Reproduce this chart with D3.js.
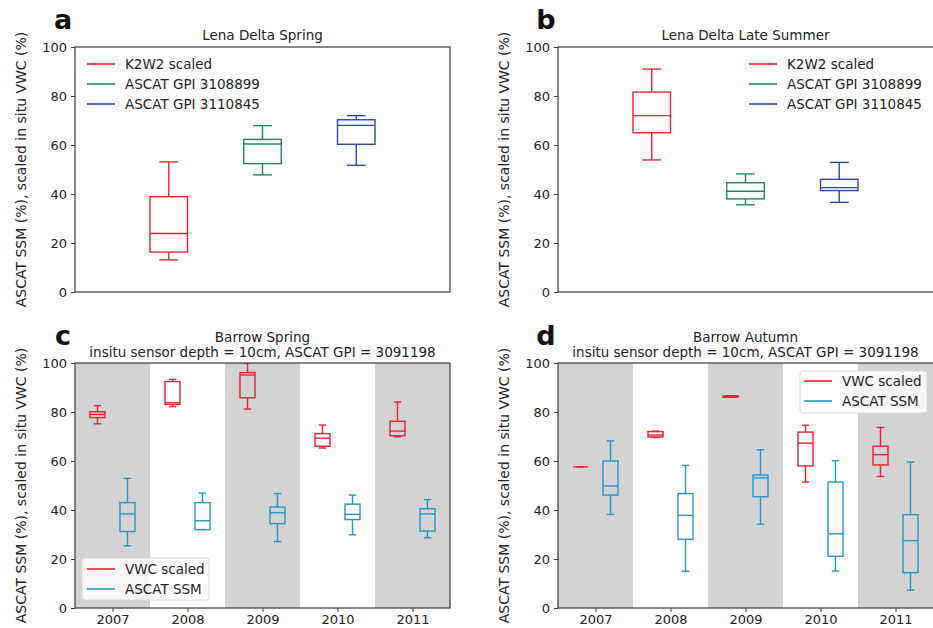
<!DOCTYPE html>
<html>
<head>
<meta charset="utf-8">
<script src="https://cdn.jsdelivr.net/npm/d3@7"></script>
<style>
  html, body { margin: 0; padding: 0; background: #fff; }
  svg { display: block; font-family: "DejaVu Sans", Verdana, sans-serif; }
</style>
</head>
<body>
<svg id="chart" width="933" height="628"></svg>
<script>
// ---------------- DATA ----------------
// Box stats: [lower whisker, Q1, median, Q3, upper whisker]
const lenaGroups = ["K2W2 scaled", "ASCAT GPI 3108899", "ASCAT GPI 3110845"];
const lenaSpring = [
  [13.1, 16.3, 23.9, 38.9, 53.1],
  [47.8, 52.4, 60.4, 62.3, 67.9],
  [51.7, 60.3, 68.0, 70.3, 72.0]
];
const lenaLateSummer = [
  [53.9, 65.0, 72.0, 81.6, 91.0],
  [35.6, 38.0, 41.1, 44.6, 48.2],
  [36.6, 41.4, 42.6, 46.0, 52.9]
];
const years = ["2007", "2008", "2009", "2010", "2011"];
const barrowSeries = ["VWC scaled", "ASCAT SSM"];
const springVWC = [
  [75.2, 77.7, 79.0, 80.1, 82.6],
  [82.2, 83.1, 83.8, 92.4, 93.3],
  [81.2, 85.8, 95.1, 96.1, 100.0],
  [65.3, 66.0, 69.3, 71.2, 74.7],
  [69.9, 70.3, 72.2, 76.2, 84.1]
];
const springSSM = [
  [25.4, 31.2, 38.4, 43.0, 52.9],
  [32.0, 32.0, 35.6, 43.0, 46.9],
  [27.1, 34.4, 38.9, 41.2, 46.7],
  [29.9, 36.1, 38.2, 42.4, 46.1],
  [28.7, 31.4, 38.4, 40.5, 44.2]
];
const autumnVWC = [
  [57.6, 57.6, 57.6, 57.6, 57.6],
  [69.6, 69.8, 70.6, 72.0, 72.2],
  [86.0, 86.0, 86.3, 86.6, 86.6],
  [51.4, 58.0, 67.3, 71.8, 74.6],
  [53.7, 58.4, 62.6, 66.0, 73.7]
];
const autumnSSM = [
  [38.2, 46.1, 49.8, 60.0, 68.2],
  [15.0, 28.0, 37.8, 46.7, 58.2],
  [34.2, 45.4, 53.1, 54.3, 64.6],
  [15.1, 21.1, 30.3, 51.4, 60.1],
  [7.3, 14.4, 27.5, 38.1, 59.6]
];
const yTickValues = [0, 20, 40, 60, 80, 100];

// ---------------- STYLE ----------------
const lenaColors = ["#e2262c", "#23875a", "#2c4c9f"];
const barrowColors = ["#e2262c", "#2596c4"];
const bandColor = "#d3d3d3";
const spineColor = "#3a3a3a";
const yLabel = "ASCAT SSM (%), scaled in situ VWC (%)";

const svg = d3.select("#chart");

const panels = [
  { id: "a", left: 75, right: 450, top: 47, bottom: 292 },
  { id: "b", left: 558, right: 934, top: 47, bottom: 292 },
  { id: "c", left: 75, right: 450, top: 363, bottom: 608 },
  { id: "d", left: 558, right: 934, top: 363, bottom: 608 }
];

function boxplot(g, x, y, xc, halfW, s, color) {
  const [lo, q1, med, q3, hi] = s;
  const gg = g.append("g").attr("stroke", color).attr("fill", "none").attr("stroke-width", 1.4);
  gg.append("rect")
    .attr("x", xc - halfW).attr("width", 2 * halfW)
    .attr("y", y(q3)).attr("height", Math.max(0, y(q1) - y(q3)));
  gg.append("line").attr("x1", xc - halfW).attr("x2", xc + halfW)
    .attr("y1", y(med)).attr("y2", y(med));
  gg.append("line").attr("x1", xc).attr("x2", xc).attr("y1", y(q1)).attr("y2", y(lo));
  gg.append("line").attr("x1", xc).attr("x2", xc).attr("y1", y(q3)).attr("y2", y(hi));
  gg.append("line").attr("x1", xc - halfW / 2).attr("x2", xc + halfW / 2).attr("y1", y(lo)).attr("y2", y(lo));
  gg.append("line").attr("x1", xc - halfW / 2).attr("x2", xc + halfW / 2).attr("y1", y(hi)).attr("y2", y(hi));
}

function frame(p, y) {
  const g = svg.append("g");
  const ax = g.append("g").attr("transform", `translate(${p.left},0)`)
    .call(d3.axisLeft(y).tickValues(yTickValues).tickSize(4).tickPadding(4));
  ax.select(".domain").remove();
  ax.selectAll(".tick line").attr("stroke", spineColor).attr("stroke-width", 1);
  ax.selectAll(".tick text").attr("font-size", 13).attr("fill", "#222")
    .attr("font-family", "DejaVu Sans, sans-serif");
  g.append("text")
    .attr("transform", `translate(${p.left - 54},${(p.top + p.bottom) / 2}) rotate(-90)`)
    .attr("text-anchor", "middle").attr("dy", "0.35em")
    .attr("font-size", 14).attr("fill", "#222").text(yLabel);
  g.append("text").attr("x", p.left - 12).attr("y", p.top - 18)
    .attr("text-anchor", "middle").attr("font-size", 27).attr("font-weight", "bold")
    .attr("fill", "#111").text(p.id);
  return g;
}

function spines(p) {
  svg.append("rect").attr("x", p.left).attr("y", p.top)
    .attr("width", p.right - p.left).attr("height", p.bottom - p.top)
    .attr("fill", "none").attr("stroke", spineColor).attr("stroke-width", 1.2);
}

function legendFrame(x0, y0, w, h) {
  const g = svg.append("g");
  g.append("rect").attr("x", x0).attr("y", y0).attr("width", w).attr("height", h)
    .attr("rx", 3).attr("fill", "#fff").attr("fill-opacity", 0.8)
    .attr("stroke", "#d8d8d8").attr("stroke-width", 1);
  return g;
}

function drawLegendItems(g, lx, ly, items, colors) {
  items.forEach((t, i) => {
    const yy = ly + i * 20;
    g.append("line").attr("x1", lx).attr("x2", lx + 28).attr("y1", yy).attr("y2", yy)
      .attr("stroke", colors[i]).attr("stroke-width", 1.6);
    g.append("text").attr("x", lx + 38).attr("y", yy).attr("dy", "0.35em")
      .attr("font-size", 13.5).attr("fill", "#222").text(t);
  });
}

// ---------------- TOP PANELS ----------------
[[panels[0], lenaSpring, "Lena Delta Spring", 87],
 [panels[1], lenaLateSummer, "Lena Delta Late Summer", 749]].forEach(([p, data, title, lx]) => {
  const y = d3.scaleLinear().domain([0, 100]).range([p.bottom, p.top]);
  const x = d3.scaleLinear().domain([0, 4]).range([p.left, p.left + 375]);
  frame(p, y);
  const g = svg.append("g");
  data.forEach((s, i) => {
    const halfW = (x(0.4) - x(0)) / 2;
    boxplot(g, x, y, x(i + 1), halfW, s, lenaColors[i]);
  });
  spines(p);
  svg.append("text").attr("x", (p.left + p.left + 375) / 2).attr("y", 40)
    .attr("text-anchor", "middle").attr("font-size", 13.5).attr("fill", "#222").text(title);
  const lg = svg.append("g");
  drawLegendItems(lg, lx, 64, lenaGroups, lenaColors);
});

// ---------------- BOTTOM PANELS ----------------
svg.append("defs").selectAll("clipPath").data([panels[2], panels[3]]).join("clipPath")
  .attr("id", d => "clip" + d.id)
  .append("rect").attr("x", d => d.left).attr("y", d => d.top)
  .attr("width", d => d.right - d.left).attr("height", d => d.bottom - d.top);

[[panels[2], springVWC, springSSM, "Barrow Spring", {x: 82, y: 558, lx: 87, ly: 569}],
 [panels[3], autumnVWC, autumnSSM, "Barrow Autumn", {x: 800, y: 371, lx: 804, ly: 381}]]
.forEach(([p, vwc, ssm, title, leg]) => {
  const y = d3.scaleLinear().domain([0, 100]).range([p.bottom, p.top]);
  const x = d3.scaleLinear().domain([0.5, 5.5]).range([p.left, p.left + 375]);
  const inner = svg.append("g").attr("clip-path", `url(#clip${p.id})`);
  years.forEach((yr, i) => {
    if (i % 2 === 0) {
      inner.append("rect").attr("x", x(i + 0.5)).attr("width", x(i + 1.5) - x(i + 0.5) + (i === 4 ? 2 : 0))
        .attr("y", p.top).attr("height", p.bottom - p.top).attr("fill", bandColor);
    }
  });
  frame(p, y);
  const halfW = (x(0.2) - x(0)) / 2;
  years.forEach((yr, i) => {
    boxplot(inner, x, y, x(i + 1) - (x(0.2) - x(0)), halfW, vwc[i], barrowColors[0]);
    boxplot(inner, x, y, x(i + 1) + (x(0.2) - x(0)), halfW, ssm[i], barrowColors[1]);
  });
  const xa = svg.append("g").attr("transform", `translate(0,${p.bottom})`)
    .call(d3.axisBottom(x).tickValues([1, 2, 3, 4, 5]).tickFormat((d, i) => years[i]).tickSize(4).tickPadding(3));
  xa.select(".domain").remove();
  xa.selectAll(".tick line").attr("stroke", spineColor);
  xa.selectAll(".tick text").attr("font-size", 13).attr("fill", "#222")
    .attr("font-family", "DejaVu Sans, sans-serif");
  spines(p);
  const cx = (p.left + p.left + 375) / 2;
  svg.append("text").attr("x", cx).attr("y", p.top - 21)
    .attr("text-anchor", "middle").attr("font-size", 13.5).attr("fill", "#222").text(title);
  svg.append("text").attr("x", cx).attr("y", p.top - 6)
    .attr("text-anchor", "middle").attr("font-size", 13.5).attr("fill", "#222")
    .text("insitu sensor depth = 10cm, ASCAT GPI = 3091198");
  const lg = legendFrame(leg.x, leg.y, 127, 42);
  drawLegendItems(lg, leg.lx, leg.ly, barrowSeries, barrowColors);
});
</script>
</body>
</html>
